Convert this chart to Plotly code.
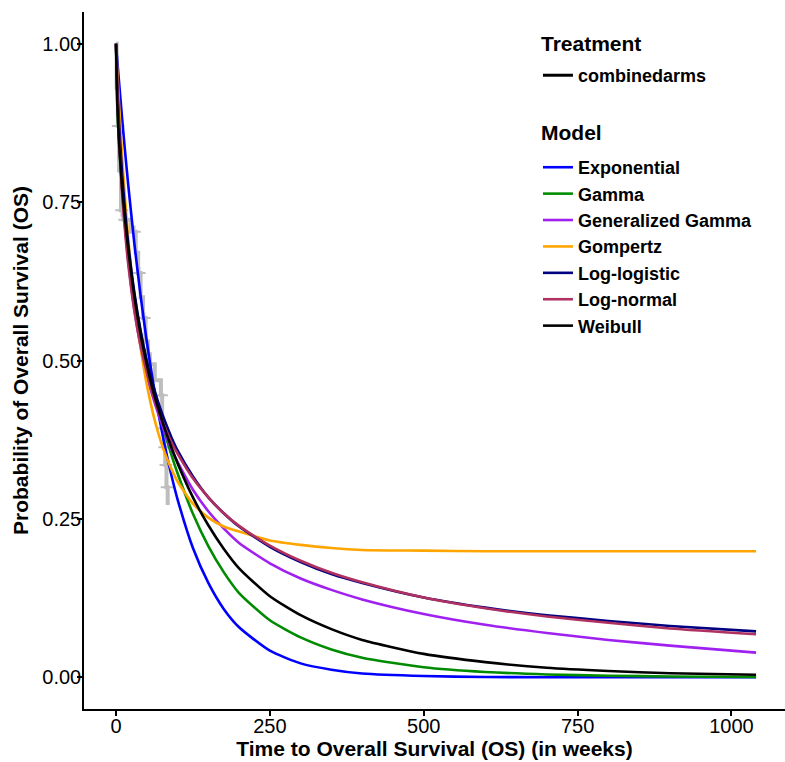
import plotly.graph_objects as go

# ---- data ----
weeks = [0, 2, 5, 10, 15, 20, 30, 40, 50, 60, 70, 80, 90, 100, 125, 150, 175, 200,
         250, 300, 350, 400, 500, 600, 700, 800, 900, 1040]

exponential = [1.0, 0.975, 0.939, 0.881, 0.827, 0.776, 0.683, 0.602, 0.530, 0.467, 0.411, 0.362,
               0.319, 0.281, 0.204, 0.149, 0.108, 0.079, 0.042, 0.022, 0.012, 0.006, 0.002,
               0.0005, 0.0001, 0.0, 0.0, 0.0]
gamma = [1.0, 0.905, 0.840, 0.770, 0.720, 0.676, 0.603, 0.545, 0.497, 0.455, 0.417, 0.383,
         0.351, 0.322, 0.258, 0.207, 0.166, 0.133, 0.090, 0.063, 0.044, 0.031, 0.016,
         0.0085, 0.0045, 0.0025, 0.0014, 0.0006]
gen_gamma = [1.0, 0.925, 0.852, 0.770, 0.708, 0.657, 0.580, 0.522, 0.477, 0.442, 0.412, 0.385,
             0.360, 0.340, 0.296, 0.262, 0.235, 0.212, 0.180, 0.156, 0.138, 0.123, 0.100,
             0.083, 0.070, 0.059, 0.050, 0.039]
gompertz = [1.0, 0.959, 0.903, 0.821, 0.751, 0.691, 0.594, 0.520, 0.462, 0.417, 0.381, 0.352,
            0.329, 0.309, 0.274, 0.252, 0.238, 0.230, 0.216, 0.209, 0.204, 0.201, 0.200,
            0.199, 0.199, 0.199, 0.199, 0.199]
log_logistic = [1.0, 0.937, 0.874, 0.794, 0.733, 0.683, 0.606, 0.547, 0.500, 0.462, 0.430, 0.403,
                0.379, 0.358, 0.317, 0.284, 0.259, 0.238, 0.206, 0.182, 0.163, 0.149, 0.126,
                0.110, 0.098, 0.089, 0.081, 0.0725]
log_normal = [1.0, 0.931, 0.853, 0.763, 0.700, 0.651, 0.577, 0.523, 0.481, 0.446, 0.417, 0.393,
              0.371, 0.353, 0.314, 0.284, 0.259, 0.239, 0.208, 0.184, 0.165, 0.150, 0.126,
              0.109, 0.096, 0.086, 0.077, 0.068]
weibull = [1.0, 0.910, 0.845, 0.772, 0.720, 0.675, 0.600, 0.541, 0.494, 0.453, 0.420, 0.390,
           0.363, 0.338, 0.284, 0.240, 0.203, 0.172, 0.128, 0.098, 0.076, 0.059, 0.037,
           0.024, 0.015, 0.010, 0.0065, 0.004]

model_names = ["Exponential", "Gamma", "Generalized Gamma", "Gompertz",
               "Log-logistic", "Log-normal", "Weibull"]
model_values = [exponential, gamma, gen_gamma, gompertz, log_logistic, log_normal, weibull]
model_colors = ["#0000FF", "#008B00", "#A020F0", "#FFA500", "#000080", "#B03060", "#000000"]

# Kaplan-Meier (observed) curve
km_time = [0, 1, 3, 5, 8, 12, 24, 32, 36, 40, 44, 48, 52, 55, 63, 73, 75, 78, 80, 82, 84]
km_surv = [1.0, 0.93, 0.87, 0.80, 0.737, 0.722, 0.703, 0.67, 0.638, 0.60, 0.567, 0.53, 0.51,
           0.494, 0.469, 0.445, 0.393, 0.363, 0.335, 0.300, 0.272]
censor_time = [3.5, 9, 14, 30, 38, 46, 74, 76, 79, 81, 83]
censor_surv = [0.87, 0.737, 0.722, 0.703, 0.638, 0.567, 0.445, 0.393, 0.363, 0.335, 0.300]

treatment_name = "combinedarms"
treatment_title = "Treatment"
model_title = "Model"
x_ticks = [0, 250, 500, 750, 1000]
y_ticks = [0.0, 0.25, 0.50, 0.75, 1.00]
y_tick_text = ["0.00", "0.25", "0.50", "0.75", "1.00"]

FONT = "Liberation Sans"
KM_GREY = "#BEBEBE"

fig = go.Figure()

fig.add_trace(go.Scatter(x=km_time, y=km_surv, mode="lines", line=dict(color=KM_GREY, width=4, shape="hv"),
                         showlegend=False, hoverinfo="skip"))
fig.add_trace(go.Scatter(x=censor_time, y=censor_surv, mode="markers",
                         marker=dict(symbol="cross-thin", size=9, line=dict(color=KM_GREY, width=2)),
                         showlegend=False, hoverinfo="skip"))
fig.add_trace(go.Scatter(x=[None], y=[None], mode="lines", name=treatment_name,
                         line=dict(color="black", width=3), legend="legend"))

for name, vals, col in zip(model_names, model_values, model_colors):
    fig.add_trace(go.Scatter(x=weeks, y=vals, mode="lines", name=name,
                             line=dict(color=col, width=2.6, shape="spline", smoothing=0.6),
                             legend="legend2"))

axis_common = dict(showline=True, linecolor="black", linewidth=1.5, ticks="outside",
                   ticklen=5, tickwidth=1.5, tickcolor="black", showgrid=False, zeroline=False,
                   automargin=False, tickfont=dict(family=FONT, size=20, color="black"))

legend_common = dict(xanchor="left", yanchor="top", bgcolor="rgba(0,0,0,0)",
                     font=dict(family=FONT, size=18, weight="bold"), tracegroupgap=0)

fig.update_layout(
    width=785, height=762,
    margin=dict(l=84, r=0, t=12, b=53),
    plot_bgcolor="white", paper_bgcolor="white",
    font=dict(family=FONT, color="black"),
    xaxis=dict(range=[-52, 1087], tickvals=x_ticks, ticklabelstandoff=-7,
               title=dict(text="Time to Overall Survival (OS) (in weeks)",
                          font=dict(family=FONT, size=21, weight="bold"), standoff=2),
               **axis_common),
    yaxis=dict(range=[-0.05, 1.05], tickvals=y_ticks, ticktext=y_tick_text, ticklabelstandoff=-8,
               title=dict(text="Probability of Overall Survival (OS)",
                          font=dict(family=FONT, size=21, weight="bold"), standoff=8),
               **axis_common),
    legend=dict(x=0.6476, y=0.9354, **legend_common),
    legend2=dict(x=0.6476, y=0.8034, **legend_common),
    annotations=[
        dict(text=treatment_title, xref="paper", yref="paper", x=0.649, y=0.9555,
             xanchor="left", yanchor="middle", showarrow=False,
             font=dict(family=FONT, size=21, weight="bold", color="black")),
        dict(text=model_title, xref="paper", yref="paper", x=0.649, y=0.8264,
             xanchor="left", yanchor="middle", showarrow=False,
             font=dict(family=FONT, size=21, weight="bold", color="black")),
    ],
)

fig.write_html("out.html", config={"displayModeBar": False},
               post_script="document.body.style.margin='0';")
